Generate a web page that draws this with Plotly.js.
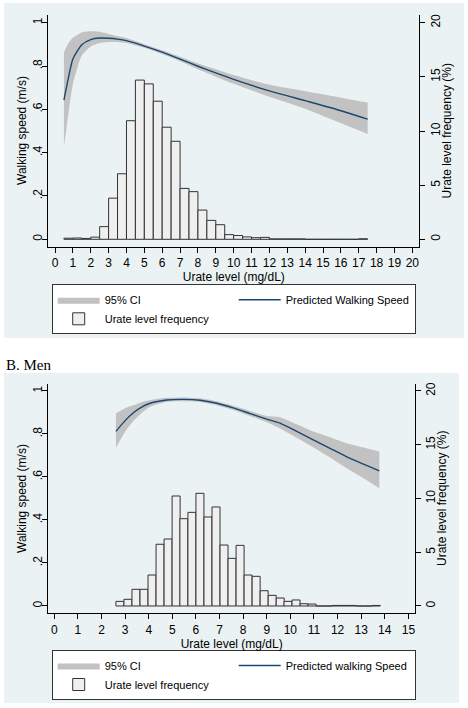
<!DOCTYPE html>
<html>
<head>
<meta charset="utf-8">
<script src="https://cdn.plot.ly/plotly-3.0.1.min.js"></script>
<style>html,body{margin:0;padding:0;background:#fff;}#chart{width:468px;height:708px;}</style>
</head>
<body>
<div id="chart"></div>
<script>
// ---------- Panel A (women) ----------
var womenCurveX   = [0.5, 0.75, 1.0, 1.5, 2.0, 2.5, 3.0, 3.5, 4.0, 5.0, 6.0, 7.0, 8.0, 9.0, 10.0, 12.0, 14.0, 15.5, 17.5];
var womenSpeed    = [0.643, 0.745, 0.832, 0.898, 0.922, 0.929, 0.928, 0.924, 0.917, 0.892, 0.864, 0.832, 0.799, 0.768, 0.738, 0.685, 0.640, 0.606, 0.555];
var womenCiLow    = [0.427, 0.580, 0.715, 0.848, 0.890, 0.906, 0.911, 0.911, 0.906, 0.884, 0.855, 0.822, 0.785, 0.751, 0.718, 0.658, 0.603, 0.553, 0.486];
var womenCiHigh   = [0.864, 0.905, 0.930, 0.955, 0.960, 0.958, 0.948, 0.938, 0.929, 0.901, 0.873, 0.843, 0.812, 0.785, 0.758, 0.713, 0.684, 0.662, 0.631];

var womenBinCenter = [0.75, 1.25, 1.75, 2.25, 2.75, 3.25, 3.75, 4.25, 4.75, 5.25, 5.75, 6.25, 6.75, 7.25, 7.75, 8.25, 8.75,
                      9.25, 9.75, 10.25, 10.75, 11.25, 11.75, 12.25, 12.75, 13.25, 13.75, 14.25, 14.75, 15.25, 15.75, 16.25, 16.75, 17.25];
var womenFreq      = [0.10, 0.12, 0.08, 0.20, 1.17, 3.80, 6.05, 10.95, 14.70, 14.35, 12.75, 10.35, 9.05, 4.70, 4.40, 2.70, 1.75,
                      1.35, 0.43, 0.35, 0.22, 0.15, 0.18, 0.04, 0.04, 0.04, 0.04, 0, 0, 0, 0, 0, 0, 0.05];
var womenBinWidth  = 0.5;

// ---------- Panel B (men) ----------
var menCurveX  = [2.61, 3.0, 3.35, 3.7, 4.06, 4.76, 5.47, 6.17, 6.88, 7.58, 8.29, 9.0, 9.56, 10.27, 10.97, 11.68, 12.39, 13.1, 13.77];
var menSpeed   = [0.812, 0.862, 0.899, 0.925, 0.943, 0.958, 0.961, 0.957, 0.943, 0.921, 0.895, 0.869, 0.850, 0.812, 0.772, 0.733, 0.694, 0.660, 0.628];
var menCiLow   = [0.736, 0.810, 0.860, 0.898, 0.927, 0.949, 0.952, 0.949, 0.934, 0.911, 0.883, 0.855, 0.826, 0.783, 0.738, 0.690, 0.640, 0.594, 0.547];
var menCiHigh  = [0.896, 0.920, 0.933, 0.948, 0.958, 0.968, 0.970, 0.966, 0.952, 0.931, 0.907, 0.884, 0.878, 0.845, 0.811, 0.785, 0.757, 0.737, 0.718];

var menBinCenter = [2.78, 3.12, 3.46, 3.80, 4.14, 4.48, 4.82, 5.16, 5.49, 5.83, 6.17, 6.51, 6.85, 7.19, 7.53, 7.87, 8.21,
                    8.55, 8.89, 9.23, 9.57, 9.90, 10.24, 10.58, 10.92, 11.26, 11.60, 11.94, 12.28, 12.62, 12.96, 13.30, 13.64];
var menFreq      = [0.43, 0.62, 1.55, 1.55, 2.88, 5.74, 6.23, 10.23, 8.12, 8.71, 10.48, 8.28, 9.21, 5.67, 4.43, 5.64, 2.88,
                    2.76, 1.42, 0.99, 0.74, 0.43, 0.56, 0.21, 0.18, 0, 0, 0.05, 0.05, 0.05, 0, 0, 0.05];
var menBinWidth  = 0.339;

// ---------- tick labels / titles ----------
var speedTickVals = [0, 0.2, 0.4, 0.6, 0.8, 1];
var speedTickText = ['0', '.2', '.4', '.6', '.8', '1'];
var freqTickVals  = [0, 5, 10, 15, 20];
var womenXTicks   = [0,1,2,3,4,5,6,7,8,9,10,11,12,13,14,15,16,17,18,19,20];
var menXTicks     = [0,1,2,3,4,5,6,7,8,9,10,11,12,13,14,15];
var xTitle = 'Urate level (mg/dL)';
var yLeftTitle = 'Walking speed (m/s)';
var yRightTitle = 'Urate level frequency (%)';

var W = 468, H = 708;
var px = function(v){ return v / W; };
var py = function(v){ return 1 - v / H; };

var CI_COLOR = '#c2c2c2', LINE_COLOR = '#1a476f', BAR_FILL = '#efefef', BAR_LINE = '#333333';
var BG = '#eaf2f3';
var FONT = 'Liberation Sans, Arial, sans-serif';

function panelTraces(cx, lo, hi, mid, bx, by, bw, xa, ya, ya2, lg, lineName) {
  return [
    { type: 'scatter', mode: 'lines', x: cx, y: lo, line: { width: 0, shape: 'spline', smoothing: 0.6 },
      showlegend: false, xaxis: xa, yaxis: ya, legend: lg, hoverinfo: 'skip' },
    { type: 'scatter', mode: 'lines', x: cx, y: hi, fill: 'tonexty', fillcolor: CI_COLOR,
      line: { width: 0, shape: 'spline', smoothing: 0.6 }, name: '95% CI', xaxis: xa, yaxis: ya, legend: lg, hoverinfo: 'skip' },
    { type: 'scatter', mode: 'lines', x: cx, y: mid, line: { color: LINE_COLOR, width: 1.4, shape: 'spline', smoothing: 0.6 },
      name: lineName, xaxis: xa, yaxis: ya, legend: lg },
    { type: 'bar', x: bx, y: by, width: bw, marker: { color: BAR_FILL, line: { color: BAR_LINE, width: 1 } },
      name: 'Urate level frequency', xaxis: xa, yaxis: ya2, legend: lg }
  ];
}

var traces = panelTraces(womenCurveX, womenCiLow, womenCiHigh, womenSpeed, womenBinCenter, womenFreq, womenBinWidth,
                         'x', 'y', 'y2', 'legend', 'Predicted Walking Speed')
  .concat(panelTraces(menCurveX, menCiLow, menCiHigh, menSpeed, menBinCenter, menFreq, menBinWidth,
                      'x2', 'y3', 'y4', 'legend2', 'Predicted walking Speed'));

var axisCommon = {
  showline: true, linecolor: '#000', linewidth: 1, ticks: 'outside', ticklen: 5, tickcolor: '#000', tickwidth: 1,
  zeroline: false, tickfont: { family: FONT, size: 12, color: '#000' }, fixedrange: true
};
function merge(a, b) { var o = {}; for (var k in a) o[k] = a[k]; for (var k2 in b) o[k2] = b[k2]; return o; }

var legendCommon = {
  orientation: 'h', xanchor: 'left', yanchor: 'top', bgcolor: '#fff', bordercolor: '#333', borderwidth: 1,
  itemwidth: 42, entrywidth: 124, font: { family: FONT, size: 11, color: '#000' }, traceorder: 'normal', tracegroupgap: 0
};

function yTitle(text, xPix, yPix) {
  return { text: text, xref: 'paper', yref: 'paper', x: px(xPix), y: py(yPix), xanchor: 'center', yanchor: 'middle',
           textangle: -90, showarrow: false, font: { family: FONT, size: 12, color: '#000' } };
}

var layout = {
  width: W, height: H, margin: { l: 0, r: 0, t: 0, b: 0 },
  paper_bgcolor: '#fff', plot_bgcolor: '#fff', showlegend: true, hovermode: false,
  font: { family: FONT, size: 12, color: '#000' },
  xaxis: merge(axisCommon, { domain: [px(48.3), px(419.3)], range: [-0.375, 20.39], anchor: 'y',
    tickvals: womenXTicks, showgrid: false, title: { text: xTitle, font: { family: FONT, size: 12 }, standoff: 2 } }),
  yaxis: merge(axisCommon, { domain: [py(247), py(15)], range: [-0.0355, 1.0355], anchor: 'x',
    tickvals: speedTickVals, ticktext: speedTickText, tickangle: -90, ticklabelstandoff: -4,
    showgrid: true, gridcolor: BG, gridwidth: 1 }),
  yaxis2: merge(axisCommon, { overlaying: 'y', side: 'right', anchor: 'x', range: [-0.71, 20.71],
    tickvals: freqTickVals, tickangle: -90, showgrid: false }),

  xaxis2: merge(axisCommon, { domain: [px(48.3), px(415)], range: [-0.254, 15.28], anchor: 'y3',
    tickvals: menXTicks, showgrid: false, title: { text: xTitle, font: { family: FONT, size: 12 }, standoff: 2 } }),
  yaxis3: merge(axisCommon, { domain: [py(613.3), py(384.3)], range: [-0.034, 1.031], anchor: 'x2',
    tickvals: speedTickVals, ticktext: speedTickText, tickangle: -90, ticklabelstandoff: -4,
    showgrid: true, gridcolor: BG, gridwidth: 1 }),
  yaxis4: merge(axisCommon, { overlaying: 'y3', side: 'right', anchor: 'x2', range: [-0.68, 20.62],
    tickvals: freqTickVals, tickangle: -90, showgrid: false }),

  legend: merge(legendCommon, { x: px(51.7), y: py(284.3) }),
  legend2: merge(legendCommon, { x: px(51.7), y: py(650) }),

  shapes: [
    { type: 'rect', xref: 'paper', yref: 'paper', x0: px(4), x1: px(464), y0: py(338), y1: py(3), fillcolor: BG, line: { width: 0 }, layer: 'below' },
    { type: 'rect', xref: 'paper', yref: 'paper', x0: px(4), x1: px(459), y0: py(703), y1: py(373), fillcolor: BG, line: { width: 0 }, layer: 'below' }
  ],
  annotations: [
    { text: 'B. Men', xref: 'paper', yref: 'paper', x: px(4), y: py(365), xanchor: 'left', yanchor: 'middle',
      showarrow: false, font: { family: 'Liberation Serif, Times New Roman, serif', size: 15, color: '#000' } },
    yTitle(yLeftTitle, 22, 131),
    yTitle(yRightTitle, 446.5, 131),
    yTitle(yLeftTitle, 22, 499),
    yTitle(yRightTitle, 442, 499)
  ]
};

Plotly.newPlot('chart', traces, layout, { staticPlot: true, displayModeBar: false });
</script>
</body>
</html>
